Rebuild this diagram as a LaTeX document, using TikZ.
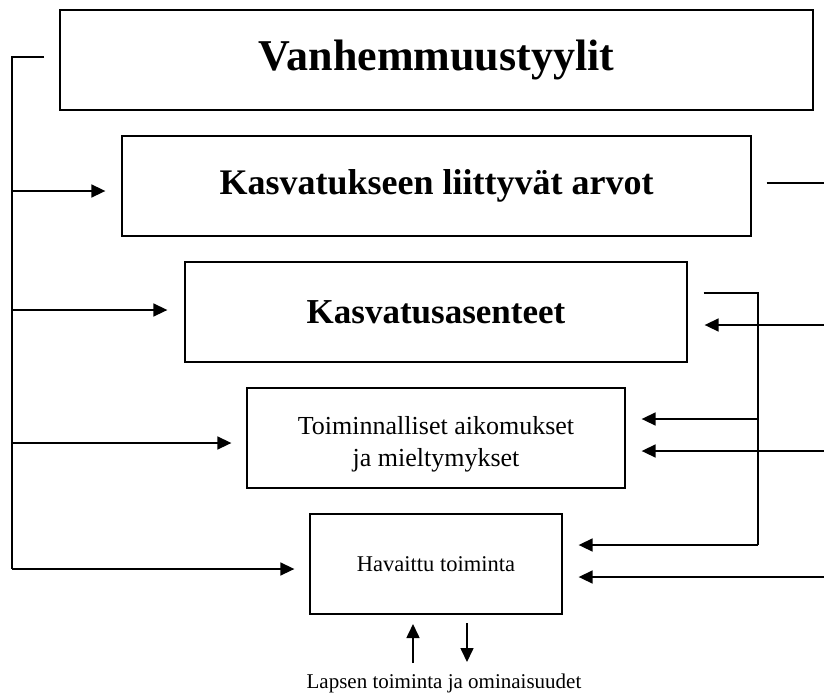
\documentclass[tikz,border=0pt]{standalone}
\usepackage{fontspec}
\setmainfont{Liberation Serif}
\usetikzlibrary{arrows.meta,calc}
\begin{document}
\begin{tikzpicture}[x=1pt,y=-1pt,
  box/.style={draw=black, line width=1.3pt, align=center, inner sep=0pt},
  ln/.style={draw=black, line width=1.3pt},
  arr/.style={draw=black, line width=1.6pt, -{Triangle[length=14pt,width=13pt]}}]
\useasboundingbox (0,0) rectangle (824,699);
\node[box, minimum width=753pt, minimum height=100pt, font=\fontsize{44}{50}\selectfont\bfseries] (b1) at (436.5,60) {Vanhemmuustyylit};
\node[box, minimum width=629pt, minimum height=100pt, font=\fontsize{36}{42}\selectfont\bfseries] (b2) at (436.5,186) {Kasvatukseen liittyvät arvot};
\node[box, minimum width=502pt, minimum height=100pt, font=\fontsize{35}{40}\selectfont\bfseries] (b3) at (436,312) {Kasvatusasenteet};
\node[box, minimum width=378pt, minimum height=100pt, font=\fontsize{26}{32}\selectfont] (b4) at (436,438) {\rule{0pt}{30pt}Toiminnalliset aikomukset\\ja mieltymykset};
\node[box, minimum width=252pt, minimum height=100pt, font=\fontsize{22.5}{26}\selectfont] (b5) at (436,564) {Havaittu toiminta};
\node[anchor=base, inner sep=0pt, font=\fontsize{21}{25}\selectfont] (lap) at (444,688) {Lapsen toiminta ja ominaisuudet};
% left feedback
\coordinate (lt) at (44,57);
\coordinate (lc) at (12,57);
\coordinate (lb) at (12,569);
\coordinate (a2) at ([xshift=-16pt,yshift=-5pt]b2.west);
\coordinate (a3) at ([xshift=-17pt,yshift=2pt]b3.west);
\coordinate (a4) at ([xshift=-15pt,yshift=-5pt]b4.west);
\coordinate (a5) at ([xshift=-15pt,yshift=-5pt]b5.west);
\draw[ln] (lt) -- (lc) -- (lb);
\draw[arr] (lc |- a2) -- (a2);
\draw[arr] (lc |- a3) -- (a3);
\draw[arr] (lc |- a4) -- (a4);
\draw[arr] (lb) -- (a5);
% right side
\coordinate (r1s) at ([xshift=15pt,yshift=3pt]b2.east);
\coordinate (r1e) at (824,183);
\draw[line width=1.1pt] (r1s) -- (r1e);
\coordinate (rs) at ([xshift=16pt,yshift=19pt]b3.east);
\coordinate (rc) at (758,293);
\coordinate (t4) at ([xshift=16pt,yshift=19pt]b4.east);
\coordinate (t5) at ([xshift=16pt,yshift=19pt]b5.east);
\draw[ln] (rs) -- (rc) -- (rc |- t5);
\draw[arr] (rc |- t5) -- (t5);
\draw[arr] (rc |- t4) -- (t4);
\coordinate (u3) at ([xshift=17pt,yshift=-13pt]b3.east);
\coordinate (u4) at ([xshift=16pt,yshift=-13pt]b4.east);
\coordinate (u5) at ([xshift=16pt,yshift=-13pt]b5.east);
\draw[arr] (824,0 |- u3) -- (u3);
\draw[arr] (824,0 |- u4) -- (u4);
\draw[arr] (824,0 |- u5) -- (u5);
% bottom
\coordinate (up1) at (413,663);
\coordinate (up2) at (413,624);
\coordinate (dn1) at (467,623);
\coordinate (dn2) at (467,662);
\draw[arr] (up1) -- (up2);
\draw[arr] (dn1) -- (dn2);
\end{tikzpicture}
\end{document}
